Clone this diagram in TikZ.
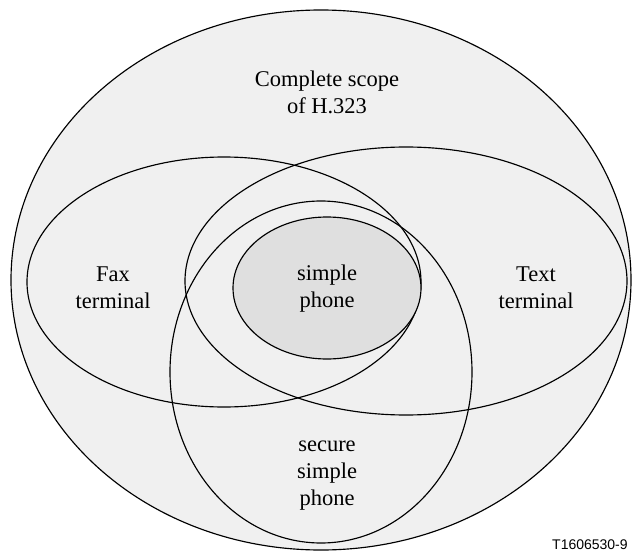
\documentclass[tikz,border=0pt]{standalone}
\usepackage{fontspec}
\setmainfont{Liberation Serif}
\newfontfamily\tagfont{Liberation Sans}
\usetikzlibrary{shapes.geometric}
\definecolor{ScopeFill}{HTML}{F0F0F0}
\definecolor{PhoneFill}{HTML}{DFDFDF}

\begin{document}
\begin{tikzpicture}[x=1pt,y=-1pt]
  \tikzstyle{setring}=[draw=black,ellipse,line width=1.15pt,inner sep=0pt]
  \tikzstyle{lbl}=[align=center,inner sep=0pt,
    font=\fontsize{22.5}{27}\selectfont]
  \useasboundingbox (0,0) rectangle (632,551);
  % the sets
  \node[setring,fill=ScopeFill,minimum width=620pt,minimum height=540pt] (scope) at (321,280) {};
  \node[setring,minimum width=394pt,minimum height=250pt] (fax) at (224,282) {};
  \node[setring,minimum width=442pt,minimum height=268pt] (textterm) at (406,281) {};
  \node[setring,minimum width=302pt,minimum height=342pt] (secure) at (321,372) {};
  \node[setring,fill=PhoneFill,minimum width=188pt,minimum height=142pt] (phone) at (327,288) {};
  % the labels
  \node[lbl] (scopelbl) at (327,92) {Complete scope\\of H.323};
  \node[lbl] (faxlbl) at (113,288) {Fax\\terminal};
  \node[lbl] (phonelbl) at (327,289) {simple\\phone};
  \node[lbl] (textlbl) at (536,288) {Text\\terminal};
  \node[lbl] (securelbl) at (327,476) {secure\\simple\\phone};
  \node[anchor=base west,inner sep=0pt,font=\tagfont\fontsize{14}{16}\selectfont] (tag) at (552,549) {T1606530-9};
\end{tikzpicture}
\end{document}
